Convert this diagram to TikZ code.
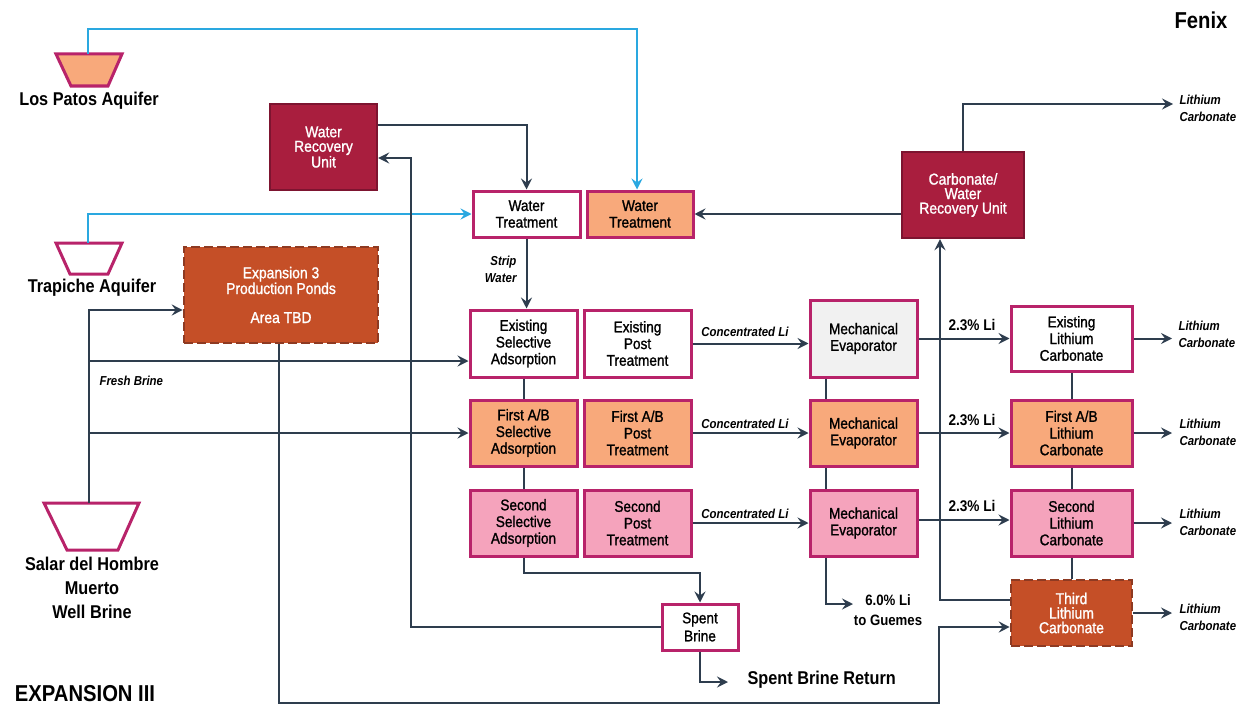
\documentclass[tikz,border=0pt]{standalone}
\usepackage{fontspec}
\setmainfont{Liberation Sans}[FakeStretch=0.88]
\newfontfamily\medfont{Liberation Sans}[FakeStretch=0.88, FakeBold=1.2]
\usetikzlibrary{arrows.meta,calc}
\definecolor{mag}{HTML}{B8236A}
\definecolor{orn}{HTML}{F8A97B}
\definecolor{pnk}{HTML}{F5A3BC}
\definecolor{gry}{HTML}{F1F1F1}
\definecolor{crim}{HTML}{A91E3E}
\definecolor{crimB}{HTML}{7D1430}
\definecolor{burnt}{HTML}{C54F27}
\definecolor{burntB}{HTML}{8E3A22}
\definecolor{sky}{HTML}{2AA8E0}
\definecolor{ink}{HTML}{2E3D4E}
\tikzset{
  >={Stealth[length=11pt,width=11pt,inset=4pt]},
  box/.style={draw=mag, line width=3pt, inner sep=1pt, align=center, text=black,
    font=\medfont\fontsize{15.5}{16.7}\selectfont},
  wbox/.style={box, fill=white},
  obox/.style={box, fill=orn},
  pbox/.style={box, fill=pnk},
  gbox/.style={box, fill=gry},
  dbox/.style={draw=crimB, fill=crim, line width=2.4pt, text=white, align=center,
    font=\medfont\fontsize{15.8}{14.5}\selectfont},
  xbox/.style={draw=burntB, fill=burnt, line width=2.6pt, dash pattern=on 9pt off 4pt,
    text=white, align=center, font=\medfont\fontsize{15.8}{14.5}\selectfont},
  conn/.style={draw=ink, line width=2pt},
  water/.style={draw=sky, line width=2pt},
  aquifer/.style={draw=mag, line width=3pt},
  lab/.style={font=\bfseries\itshape\fontsize{13}{17}\selectfont, text=black},
  pct/.style={font=\bfseries\fontsize{15.5}{18}\selectfont, text=black},
  big/.style={font=\bfseries\fontsize{18.5}{24}\selectfont, text=black, align=center},
}
\begin{document}
\begin{tikzpicture}[x=1pt,y=-1pt]
\useasboundingbox (0,0) rectangle (1245,709);

% aquifers
\draw[aquifer, fill=orn] (56,54) -- (122,54) -- (108,86) -- (71,86) -- cycle;
\coordinate (lp) at (88,54);
\draw[aquifer, fill=white] (56,243) -- (122,243) -- (108,274) -- (70,274) -- cycle;
\coordinate (tp) at (88,243);
\draw[aquifer, fill=white] (44,503) -- (139,503) -- (118,550) -- (67,550) -- cycle;
\coordinate (sal) at (89,503);

\node[big] (lpL) at (89,101) {Los Patos Aquifer};
\node[big] (tpL) at (92,288) {Trapiche Aquifer};
\node[big] (salL) at (92,588) {Salar del Hombre\\Muerto\\Well Brine};
\node[font=\bfseries\fontsize{23}{26}\selectfont] (expL) at (85,694) {EXPANSION III};
\node[font=\bfseries\fontsize{23}{26}\selectfont] (fenix) at (1201,20) {Fenix};

% boxes
\node[dbox, minimum width=107, minimum height=86] (wru) at (323.5,147) {Water\\Recovery\\Unit};
\node[dbox, minimum width=122, minimum height=86] (cwru) at (963,195) {Carbonate/\\Water\\Recovery Unit};
\node[xbox, minimum width=194, minimum height=96] (exp3) at (281,295) {Expansion 3\\Production Ponds\\[14.5pt]Area TBD};

\node[wbox, minimum width=107, minimum height=46] (wtA) at (526.5,214) {Water\\Treatment};
\node[obox, minimum width=106, minimum height=46] (wtB) at (640,214) {Water\\Treatment};

\node[wbox, minimum width=107, minimum height=67] (saE) at (523.5,343.5) {Existing\\Selective\\Adsorption};
\node[wbox, minimum width=107, minimum height=67] (ptE) at (637.5,343.5) {Existing\\Post\\Treatment};
\node[obox, minimum width=107, minimum height=66] (saF) at (523.5,433) {First A/B\\Selective\\Adsorption};
\node[obox, minimum width=107, minimum height=66] (ptF) at (637.5,433) {First A/B\\Post\\Treatment};
\node[pbox, minimum width=107, minimum height=66] (saS) at (523.5,523) {Second\\Selective\\Adsorption};
\node[pbox, minimum width=107, minimum height=66] (ptS) at (637.5,523) {Second\\Post\\Treatment};

\node[gbox, minimum width=107, minimum height=77] (meE) at (863.5,338.5) {Mechanical\\Evaporator};
\node[obox, minimum width=107, minimum height=66] (meF) at (863.5,433) {Mechanical\\Evaporator};
\node[pbox, minimum width=107, minimum height=66] (meS) at (863.5,523) {Mechanical\\Evaporator};

\node[wbox, minimum width=121, minimum height=65] (lcE) at (1071.5,338.5) {Existing\\Lithium\\Carbonate};
\node[obox, minimum width=121, minimum height=66] (lcF) at (1071.5,433) {First A/B\\Lithium\\Carbonate};
\node[pbox, minimum width=121, minimum height=66] (lcS) at (1071.5,523) {Second\\Lithium\\Carbonate};
\node[xbox, minimum width=121, minimum height=66] (lcT) at (1071.5,613) {Third\\Lithium\\Carbonate};

\node[wbox, minimum width=76, minimum height=46, font=\medfont\fontsize{15.5}{18}\selectfont] (sb) at (700,627) {Spent\\Brine};

% water lines
\draw[water,->] (lp) -- ++(0,-25) -| ([xshift=-3pt]wtB.north);
\draw[water,->] (tp) |- (wtA.west);

% water recovery
\draw[conn,->] ([yshift=22pt]wru.east) -| (wtA.north);
\draw[conn,->] (sb.west) -- ++(-250,0) |- ([yshift=-11pt]wru.east);
\draw[conn,->] (cwru.west |- wtB.east) -- (wtB.east);

% carbonate outputs
\coordinate (o0) at (1173,104);
\draw[conn,->] (cwru.north) |- (o0);
\node[lab, anchor=west, align=left] (l0) at (1176,108) {Lithium\\Carbonate};

% brine feed
\draw[conn,->] (sal) |- ([yshift=-15pt]exp3.west);
\draw[conn,->] (sal |- 0,361) -- ([yshift=-17.5pt]saE.west);
\draw[conn,->] (sal |- saF.west) -- (saF.west);
\node[lab, anchor=west] (fb) at (96,381) {Fresh Brine};

% strip water
\draw[conn,->] (wtA.south) -- (wtA.south |- saE.north);
\node[lab, anchor=east, align=right] (sw) at (520,269) {Strip\\Water};

% SA chain
\draw[conn] (saE.south) -- (saF.north);
\draw[conn] (saF.south) -- (saS.north);
\draw[conn,->] (saS.south) -- ++(0,15) -| (sb.north);

% PT -> ME
\draw[conn,->] (ptE.east) -- (ptE.east -| meE.west);
\draw[conn,->] (ptF.east) -- (meF.west);
\draw[conn,->] (ptS.east) -- (meS.west);
\node[lab] (c1) at (745,332) {Concentrated Li};
\node[lab] (c2) at (745,424) {Concentrated Li};
\node[lab] (c3) at (745,514) {Concentrated Li};

% ME chain
\draw[conn] ([xshift=-37.5pt]meE.south) -- ([xshift=-37.5pt]meF.north);
\draw[conn] ([xshift=-37.5pt]meF.south) -- ([xshift=-37.5pt]meS.north);
\coordinate (g6) at (853,604);
\draw[conn,->] ([xshift=-37.5pt]meS.south) |- (g6);
\node[pct, align=center, font=\bfseries\fontsize{15}{20}\selectfont] (gl) at (888,610) {6.0\% Li\\to Guemes};

% ME -> LC
\draw[conn,->] (meE.east) -- (lcE.west);
\draw[conn,->] (meF.east) -- (lcF.west);
\draw[conn,->] ([yshift=3pt]meS.east) -- ([yshift=3pt]lcS.west);
\node[pct] (p1) at (972,325) {2.3\% Li};
\node[pct] (p2) at (972,420) {2.3\% Li};
\node[pct] (p3) at (972,506) {2.3\% Li};

% LC chain
\draw[conn] (lcE.south) -- (lcF.north);
\draw[conn] (lcF.south) -- (lcS.north);
\draw[conn] (lcS.south) -- (lcT.north);

% LC outputs
\coordinate (o1) at (1172,338.5);
\coordinate (o2) at (1172,433);
\coordinate (o3) at (1172,523);
\coordinate (o4) at (1172,613);
\draw[conn,->] (lcE.east) -- (o1);
\draw[conn,->] (lcF.east) -- (o2);
\draw[conn,->] (lcS.east) -- (o3);
\draw[conn,->] (lcT.east) -- (o4);
\node[lab, anchor=west, align=left] (l1) at (1175,334) {Lithium\\Carbonate};
\node[lab, anchor=west, align=left] (l2) at (1176,432) {Lithium\\Carbonate};
\node[lab, anchor=west, align=left] (l3) at (1176,522) {Lithium\\Carbonate};
\node[lab, anchor=west, align=left] (l4) at (1176,617) {Lithium\\Carbonate};

% third LC to carbonate/water recovery
\draw[conn,->] ([yshift=13pt]lcT.west) -| ([xshift=-23pt]cwru.south);

% ponds to third LC
\draw[conn,->] ([xshift=-2pt]exp3.south) -- (279,703) -- (939,703) |- ([yshift=-14pt]lcT.west);

% spent brine return
\coordinate (sbr) at (728,682);
\draw[conn,->] (sb.south) |- (sbr);
\node[font=\bfseries\fontsize{18.5}{22}\selectfont, anchor=west] (sbrL) at (744,680) {Spent Brine Return};
\end{tikzpicture}
\end{document}
